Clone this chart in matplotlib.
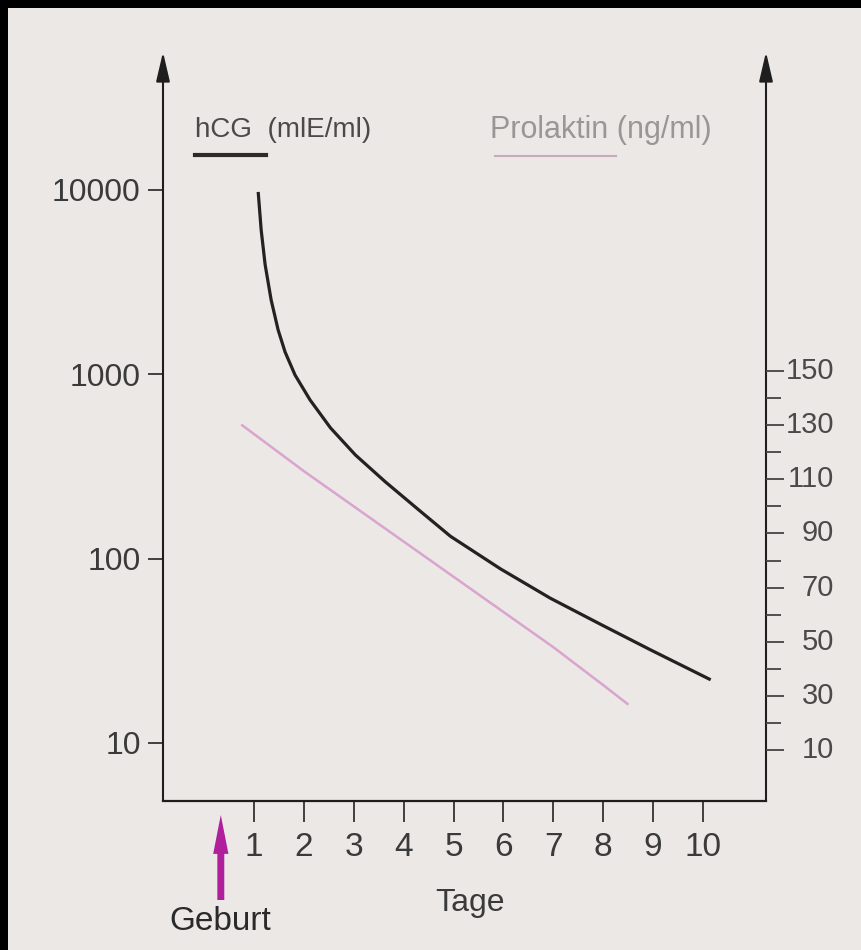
import matplotlib.pyplot as plt
import matplotlib.transforms as mtrans
from matplotlib.patches import Rectangle

plt.rcParams['font.family'] = ['Liberation Sans', 'DejaVu Sans']

# hCG (mIE/ml)
hcg_days = [1.08, 1.14, 1.22, 1.34, 1.48, 1.62, 1.82, 2.12, 2.53, 3.03, 3.63, 4.33, 4.94, 5.94, 6.94, 7.95, 8.95, 10.16]
hcg_vals = [9750, 6060, 3920, 2530, 1740, 1320, 990, 726, 512, 365, 261, 181, 132, 88, 61, 44, 32, 22]

# Prolaktin (ng/ml), right axis
prl_days = [0.76, 2, 3, 4, 5, 6, 7, 8, 8.49]
prl_vals = [130, 113, 100, 87, 74, 61, 48, 34, 27]

day_ticks = [1, 2, 3, 4, 5, 6, 7, 8, 9, 10]
hcg_ticks = [10, 100, 1000, 10000]
prl_major = [10, 30, 50, 70, 90, 110, 130, 150]
prl_minor = [20, 40, 60, 80, 100, 120, 140]
birth_day = 0.33

W, H = 861, 950
paper = '#ebe8e5'
fig = plt.figure(figsize=(W / 100, H / 100), dpi=100, facecolor='black')
fig.patches.append(Rectangle((8 / W, 0), 1, (H - 8) / H, transform=fig.transFigure,
                             facecolor=paper, edgecolor='none', zorder=-10))

left, right, bottom, top = 163, 766, 801, 52
ax = fig.add_axes([left / W, (H - bottom) / H, (right - left) / W, (bottom - top) / H])
ax.set_facecolor('none')
ax.set_yscale('log')
ax.set_xlim(-0.83, 11.27)
ax.set_ylim(4.84, 56000)
ax2 = ax.twinx()
ax2.set_ylim(-8.9, 268)

for s in ['top', 'right', 'left']:
    ax.spines[s].set_visible(False)
for s in ax2.spines.values():
    s.set_visible(False)
ax.spines['bottom'].set_linewidth(1.6)
ax.spines['bottom'].set_color('#1e1e1e')

# vertical axes with arrow heads
for xa in (0, 1):
    ax.annotate('', xy=(xa, 1), xytext=(xa, 0), xycoords='axes fraction',
                arrowprops=dict(arrowstyle='-|>,head_length=1.2,head_width=0.28',
                                mutation_scale=15, lw=1.5, color='#1e1e1e',
                                shrinkA=0, shrinkB=0))

# x ticks
ax.set_xticks(day_ticks)
ax.set_xticklabels([str(d) for d in day_ticks])
ax.tick_params(axis='x', direction='out', length=15, width=1.3, color='#333333',
               pad=7, labelsize=24, labelcolor='#3a3a3a')

# left log ticks
ax.set_yticks(hcg_ticks)
ax.set_yticklabels([str(v) for v in hcg_ticks])
ax.yaxis.set_minor_locator(plt.NullLocator())
ax.tick_params(axis='y', direction='out', length=11, width=1.3, color='#333333',
               pad=5, labelsize=23, labelcolor='#3a3a3a')

# right linear ticks
ax2.set_yticks(prl_major)
ax2.set_yticks(prl_minor, minor=True)
ax2.set_yticklabels([])
ax2.tick_params(axis='y', which='major', direction='out', length=13, width=1.3, color='#444444')
ax2.tick_params(axis='y', which='minor', direction='out', length=11, width=1.3, color='#444444')
tr = mtrans.blended_transform_factory(fig.transFigure, ax2.transData)
for v in prl_major:
    ax2.text(834 / W, v, str(v), transform=tr, ha='right', va='center',
             fontsize=21, color='#4a4a4a')

# curves
ax.plot(hcg_days, hcg_vals, color='#262120', lw=2.3, solid_capstyle='butt')
ax2.plot(prl_days, prl_vals, color='#d9a5cf', lw=1.8)

# legend
fig.text(195 / W, 1 - 130 / H, 'hCG  (mlE/ml)', fontsize=20, color='#4a4a4a', va='center')
fig.lines.append(plt.Line2D([195 / W, 266 / W], [1 - 155 / H] * 2, transform=fig.transFigure,
                            color='#2e2a28', lw=3))
fig.text(490 / W, 1 - 130 / H, 'Prolaktin (ng/ml)', fontsize=22, color='#9a9696', va='center')
fig.lines.append(plt.Line2D([495 / W, 616 / W], [1 - 156 / H] * 2, transform=fig.transFigure,
                            color='#c9a9c0', lw=1.5))

# birth arrow and labels
ax.annotate('', xy=(birth_day, 1 - 815 / H), xytext=(birth_day, 1 - 900 / H),
            xycoords=('data', 'figure fraction'),
            arrowprops=dict(width=5, headwidth=11, headlength=28, shrink=0,
                            color='#b0209c', lw=0))
fig.text(220 / W, 1 - 921 / H, 'Geburt', fontsize=24, color='#2a2a2a', ha='center', va='center')
fig.text(470 / W, 1 - 903 / H, 'Tage', fontsize=23, color='#3a3a3a', ha='center', va='center')

fig.savefig('out.png', dpi=100, facecolor=fig.get_facecolor())
